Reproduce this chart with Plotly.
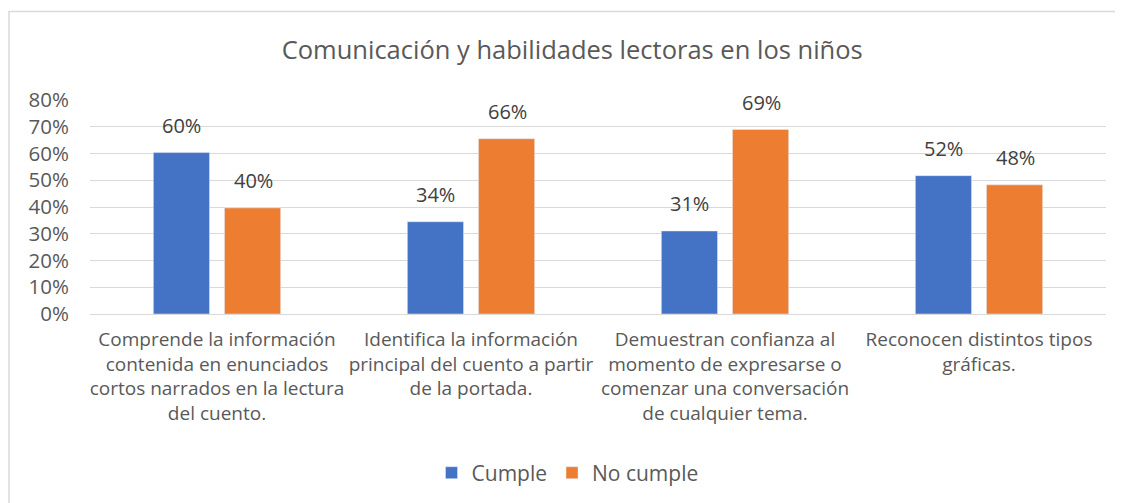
import plotly.graph_objects as go

# Data
categories = [
    "Comprende la información<br>contenida en enunciados<br>cortos narrados en la lectura<br>del cuento.",
    "Identifica la información<br>principal del cuento a partir<br>de la portada.",
    "Demuestran confianza al<br>momento de expresarse o<br>comenzar una conversación<br>de cualquier tema.",
    "Reconocen distintos tipos<br>gráficas.",
]
cumple = [0.6034, 0.3448, 0.3103, 0.5172]
no_cumple = [0.3966, 0.6552, 0.6897, 0.4828]
y_ticks = [0, 0.1, 0.2, 0.3, 0.4, 0.5, 0.6, 0.7, 0.8]

BLUE = "#4472C4"
ORANGE = "#ED7D31"
TEXT = "#595959"
GRID = "#D9D9D9"
FONT = "Open Sans"

fig = go.Figure()
fig.add_trace(go.Bar(name="Cumple", x=categories, y=cumple, marker_color=BLUE))
fig.add_trace(go.Bar(name="No cumple", x=categories, y=no_cumple, marker_color=ORANGE))

# Data labels above bars (Excel style, with a gap)
for vals, shift in ((cumple, -36), (no_cumple, 36)):
    for cat, v in zip(categories, vals):
        fig.add_annotation(
            x=cat, y=v, xref="x", yref="y",
            text=f"{v:.0%}", showarrow=False,
            xshift=shift, yshift=12, yanchor="bottom",
            font=dict(family=FONT, size=20, color="#404040"),
        )

# Chart border (left + top visible, rest cropped)
fig.add_shape(
    type="rect", xref="paper", yref="paper",
    x0=-0.0797, x1=1.1, y0=-1.2, y1=1.414,
    line=dict(color=GRID, width=1.5), layer="below",
)

# the page body has an 8px margin, so the figure is 8px smaller
fig.update_layout(
    width=1115,
    height=495,
    margin=dict(l=82, r=17, t=92, b=188),
    paper_bgcolor="white",
    plot_bgcolor="white",
    font=dict(family=FONT, color=TEXT),
    title=dict(
        text="Comunicación y habilidades lectoras en los niños",
        x=0.506, xanchor="center", y=0.915, yanchor="middle",
        font=dict(family=FONT, size=25.5, color=TEXT),
    ),
    barmode="group",
    bargap=0.44,
    bargroupgap=0.21,
    showlegend=True,
    legend=dict(
        orientation="h", x=0.47, xanchor="center", y=-0.735, yanchor="middle",
        font=dict(family=FONT, size=21, color=TEXT),
        itemwidth=30,
    ),
    xaxis=dict(
        showgrid=False,
        showline=True, linecolor=GRID, linewidth=1,
        tickfont=dict(family=FONT, size=19, color=TEXT),
        ticklabelstandoff=8,
    ),
    yaxis=dict(
        range=[0, 0.8],
        tickvals=y_ticks,
        tickformat=".0%",
        showgrid=True, gridcolor=GRID, gridwidth=1,
        zeroline=False,
        tickfont=dict(family=FONT, size=20.5, color=TEXT),
        ticklabelstandoff=20,
    ),
)

fig.write_html("out.html")
